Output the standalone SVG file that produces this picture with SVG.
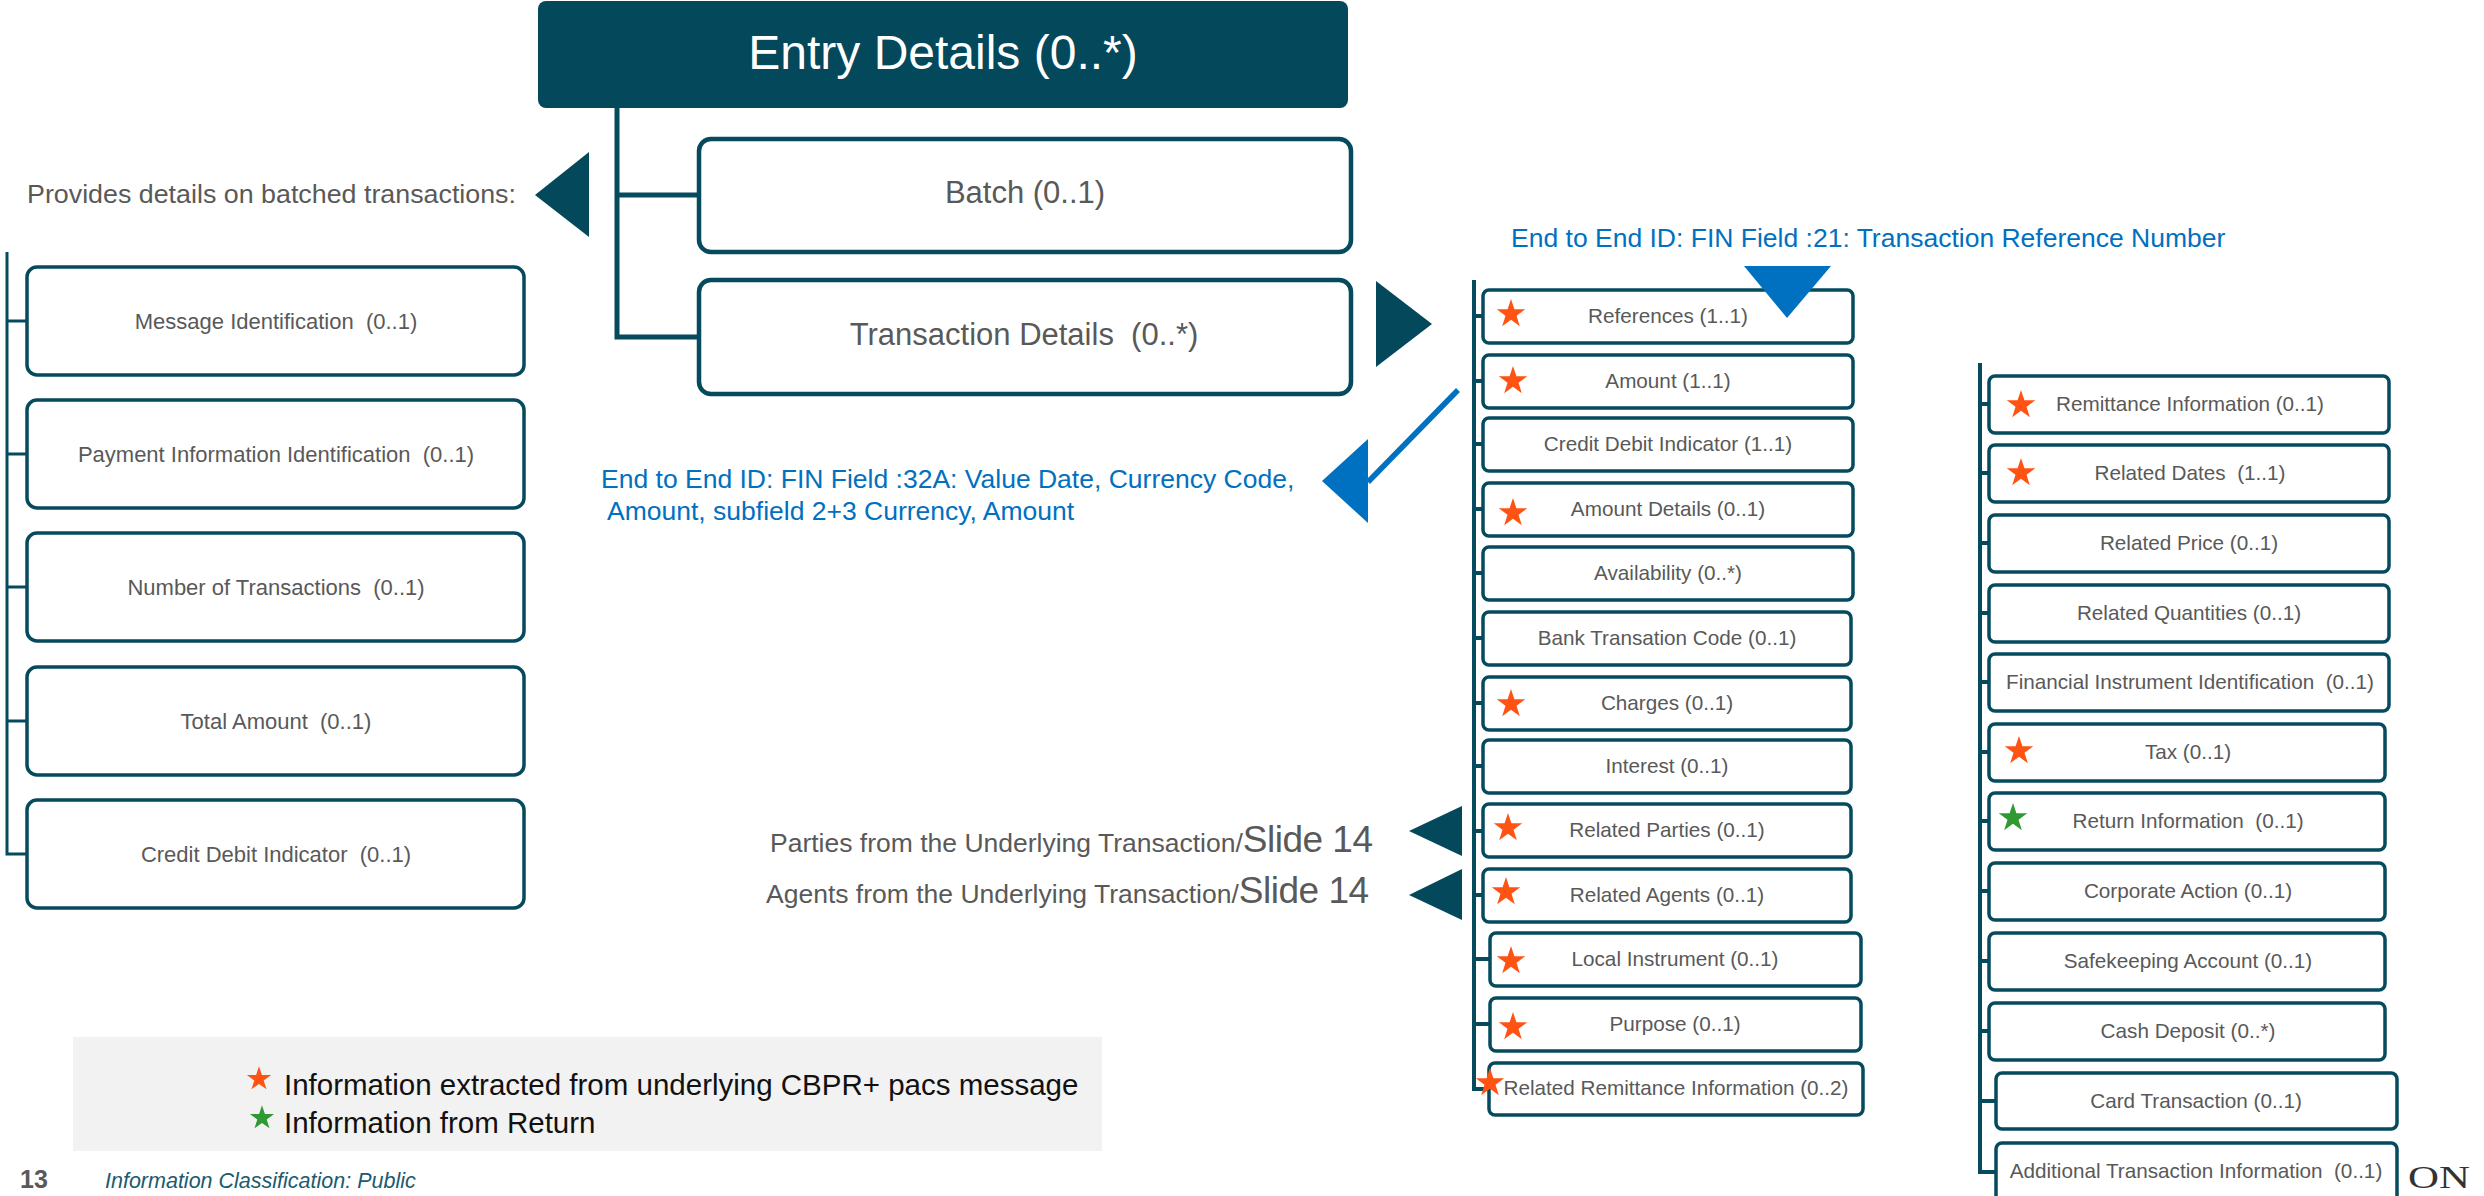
<svg xmlns="http://www.w3.org/2000/svg" xmlns:xlink="http://www.w3.org/1999/xlink" width="2484" height="1196" viewBox="0 0 2484 1196">
<style>
.box{fill:#ffffff;stroke:#064A5E;stroke-width:3.5}
.big{fill:#ffffff;stroke:#064A5E;stroke-width:4.5}
.t{font-family:"Liberation Sans",Arial,sans-serif;fill:#595959;text-anchor:middle}
.tl{font-size:22px}
.tm{font-size:20.7px}
.ann{font-family:"Liberation Sans",Arial,sans-serif;fill:#595959;font-size:26.5px}
.blue{font-family:"Liberation Sans",Arial,sans-serif;fill:#0070C0;font-size:26.5px}
.line{stroke:#064A5E;fill:none;stroke-linejoin:miter}
.tri{fill:#03485B}
.btri{fill:#0070C0}
.so{fill:#FF5314}
.sg{fill:#2F9A34}
</style>
<defs>
<path id="star" d="M0,-15 L3.41,-4.69 L14.27,-4.64 L5.52,1.79 L8.82,12.14 L0,5.8 L-8.82,12.14 L-5.52,1.79 L-14.27,-4.64 L-3.41,-4.69 Z"/>
</defs>
<rect width="2484" height="1196" fill="#ffffff"/>

<g id="connectors">
<path class="line" stroke-width="5" d="M617,108 V337 H699 M617,195 H699"/>
<path class="line" stroke-width="3" d="M7,252 V854 H27 M7,321 H27 M7,454 H27 M7,587 H27 M7,721 H27"/>
<path class="line" stroke-width="4" d="M1474,280 V1089 H1489 M1474,316 H1483 M1474,381 H1483 M1474,444 H1483 M1474,509 H1483 M1474,573 H1483 M1474,638 H1483 M1474,703 H1483 M1474,766 H1483 M1474,831 H1483 M1474,895 H1483 M1474,959 H1490 M1474,1024 H1490"/>
<path class="line" stroke-width="4" d="M1980,363 V1172 H1996 M1980,404 H1989 M1980,473 H1989 M1980,543 H1989 M1980,613 H1989 M1980,682 H1989 M1980,752 H1989 M1980,821 H1989 M1980,891 H1989 M1980,961 H1989 M1980,1031 H1989 M1980,1101 H1996"/>
<polygon class="tri" points="535,195 589,152 589,237"/>
<polygon class="tri" points="1376,281 1432,324 1376,367"/>
<polygon class="tri" points="1409,831 1462,806 1462,856"/>
<polygon class="tri" points="1409,895 1462,869 1462,920"/>
<line x1="1458" y1="390" x2="1368" y2="482" stroke="#0070C0" stroke-width="5.5"/>
<polygon class="btri" points="1322,481 1368,439 1368,523"/>
</g>

<g id="entry-details">
<rect x="538" y="1" width="810" height="107" rx="8" fill="#03485B"/>
<text x="943" y="69" font-family="'Liberation Sans',Arial,sans-serif" font-size="48" fill="#ffffff" text-anchor="middle">Entry Details (0..*)</text>
</g>
<g id="batch">
<rect class="big" x="699" y="139" width="652" height="113" rx="12"/>
<text class="t" x="1025" y="203" font-size="31">Batch (0..1)</text>
</g>
<g id="transaction-details">
<rect class="big" x="699" y="280" width="652" height="114" rx="12"/>
<text class="t" x="1024" y="345" font-size="31" xml:space="preserve">Transaction Details  (0..*)</text>
</g>

<g id="batch-note">
<text class="ann" x="27" y="203" textLength="489" lengthAdjust="spacingAndGlyphs">Provides details on batched transactions:</text>
</g>

<g id="message-identification"><rect class="box" x="27" y="267" width="497" height="108" rx="10"/><text class="t tl" x="276" y="329" xml:space="preserve">Message Identification  (0..1)</text></g>
<g id="payment-information-identification"><rect class="box" x="27" y="400" width="497" height="108" rx="10"/><text class="t tl" x="276" y="462" xml:space="preserve">Payment Information Identification  (0..1)</text></g>
<g id="number-of-transactions"><rect class="box" x="27" y="533" width="497" height="108" rx="10"/><text class="t tl" x="276" y="595" xml:space="preserve">Number of Transactions  (0..1)</text></g>
<g id="total-amount"><rect class="box" x="27" y="667" width="497" height="108" rx="10"/><text class="t tl" x="276" y="729" xml:space="preserve">Total Amount  (0..1)</text></g>
<g id="credit-debit-indicator-batch"><rect class="box" x="27" y="800" width="497" height="108" rx="10"/><text class="t tl" x="276" y="862" xml:space="preserve">Credit Debit Indicator  (0..1)</text></g>

<g id="annotation-32a">
<text class="blue" x="601" y="488">End to End ID: FIN Field :32A: Value Date, Currency Code,</text>
<text class="blue" x="607" y="520">Amount, subfield 2+3 Currency, Amount</text>
</g>
<g id="parties-note">
<text class="ann" x="770" y="852">Parties from the Underlying Transaction/<tspan font-size="37" letter-spacing="-0.5">Slide 14</tspan></text>
</g>
<g id="agents-note">
<text class="ann" x="766" y="903">Agents from the Underlying Transaction/<tspan font-size="37" letter-spacing="-0.5">Slide 14</tspan></text>
</g>

<g id="references"><rect class="box" x="1483" y="290" width="370" height="53" rx="6"/><text class="t tm" x="1668" y="323">References (1..1)</text><use href="#star" class="so" x="1511" y="314"/></g>
<g id="amount"><rect class="box" x="1483" y="355" width="370" height="53" rx="6"/><text class="t tm" x="1668" y="388">Amount (1..1)</text><use href="#star" class="so" x="1513" y="381"/></g>
<g id="credit-debit-indicator"><rect class="box" x="1483" y="418" width="370" height="53" rx="6"/><text class="t tm" x="1668" y="451">Credit Debit Indicator (1..1)</text></g>
<g id="amount-details"><rect class="box" x="1483" y="483" width="370" height="53" rx="6"/><text class="t tm" x="1668" y="516">Amount Details (0..1)</text><use href="#star" class="so" x="1513" y="513"/></g>
<g id="availability"><rect class="box" x="1483" y="547" width="370" height="53" rx="6"/><text class="t tm" x="1668" y="580">Availability (0..*)</text></g>
<g id="bank-transation-code"><rect class="box" x="1483" y="612" width="368" height="53" rx="6"/><text class="t tm" x="1667" y="645">Bank Transation Code (0..1)</text></g>
<g id="charges"><rect class="box" x="1483" y="677" width="368" height="53" rx="6"/><text class="t tm" x="1667" y="710">Charges (0..1)</text><use href="#star" class="so" x="1511" y="704"/></g>
<g id="interest"><rect class="box" x="1483" y="740" width="368" height="53" rx="6"/><text class="t tm" x="1667" y="773">Interest (0..1)</text></g>
<g id="related-parties"><rect class="box" x="1483" y="804" width="368" height="53" rx="6"/><text class="t tm" x="1667" y="837">Related Parties (0..1)</text><use href="#star" class="so" x="1508" y="828"/></g>
<g id="related-agents"><rect class="box" x="1483" y="869" width="368" height="53" rx="6"/><text class="t tm" x="1667" y="902">Related Agents (0..1)</text><use href="#star" class="so" x="1506" y="892"/></g>
<g id="local-instrument"><rect class="box" x="1490" y="933" width="371" height="53" rx="6"/><text class="t tm" x="1675" y="966">Local Instrument (0..1)</text><use href="#star" class="so" x="1511" y="961"/></g>
<g id="purpose"><rect class="box" x="1490" y="998" width="371" height="53" rx="6"/><text class="t tm" x="1675" y="1031">Purpose (0..1)</text><use href="#star" class="so" x="1513" y="1027"/></g>
<g id="related-remittance-information"><rect class="box" x="1489" y="1063" width="374" height="52" rx="6"/><text class="t tm" x="1676" y="1095">Related Remittance Information (0..2)</text><use href="#star" class="so" x="1490" y="1083"/></g>

<g id="annotation-21">
<text class="blue" x="1511" y="247">End to End ID: FIN Field :21: Transaction Reference Number</text>
<polygon class="btri" points="1744,266 1831,266 1787,318"/>
</g>

<g id="remittance-information"><rect class="box" x="1989" y="376" width="400" height="57" rx="6"/><text class="t tm" x="2190" y="411">Remittance Information (0..1)</text><use href="#star" class="so" x="2021" y="405"/></g>
<g id="related-dates"><rect class="box" x="1989" y="445" width="400" height="57" rx="6"/><text class="t tm" x="2190" y="480" xml:space="preserve">Related Dates  (1..1)</text><use href="#star" class="so" x="2021" y="473"/></g>
<g id="related-price"><rect class="box" x="1989" y="515" width="400" height="57" rx="6"/><text class="t tm" x="2189" y="550">Related Price (0..1)</text></g>
<g id="related-quantities"><rect class="box" x="1989" y="585" width="400" height="57" rx="6"/><text class="t tm" x="2189" y="620">Related Quantities (0..1)</text></g>
<g id="financial-instrument-identification"><rect class="box" x="1989" y="654" width="400" height="57" rx="6"/><text class="t tm" x="2190" y="689" xml:space="preserve">Financial Instrument Identification  (0..1)</text></g>
<g id="tax"><rect class="box" x="1989" y="724" width="396" height="57" rx="6"/><text class="t tm" x="2188" y="759">Tax (0..1)</text><use href="#star" class="so" x="2019" y="751"/></g>
<g id="return-information"><rect class="box" x="1989" y="793" width="396" height="57" rx="6"/><text class="t tm" x="2188" y="828" xml:space="preserve">Return Information  (0..1)</text><use href="#star" class="sg" x="2013" y="818"/></g>
<g id="corporate-action"><rect class="box" x="1989" y="863" width="396" height="57" rx="6"/><text class="t tm" x="2188" y="898">Corporate Action (0..1)</text></g>
<g id="safekeeping-account"><rect class="box" x="1989" y="933" width="396" height="57" rx="6"/><text class="t tm" x="2188" y="968">Safekeeping Account (0..1)</text></g>
<g id="cash-deposit"><rect class="box" x="1989" y="1003" width="396" height="57" rx="6"/><text class="t tm" x="2188" y="1038">Cash Deposit (0..*)</text></g>
<g id="card-transaction"><rect class="box" x="1996" y="1073" width="401" height="56" rx="6"/><text class="t tm" x="2196" y="1108">Card Transaction (0..1)</text></g>
<g id="additional-transaction-information"><rect class="box" x="1996" y="1143" width="401" height="60" rx="6"/><text class="t tm" x="2196" y="1178" xml:space="preserve">Additional Transaction Information  (0..1)</text></g>

<g id="legend">
<rect x="73" y="1037" width="1029" height="114" fill="#F2F2F2"/>
<use href="#star" class="so" x="259" y="1079" transform="translate(259 1079) scale(0.85) translate(-259 -1079)"/>
<text x="284" y="1095" font-family="'Liberation Sans',Arial,sans-serif" font-size="29.5" fill="#111111">Information extracted from underlying CBPR+ pacs message</text>
<use href="#star" class="sg" x="262" y="1118" transform="translate(262 1118) scale(0.85) translate(-262 -1118)"/>
<text x="284" y="1133" font-family="'Liberation Sans',Arial,sans-serif" font-size="29.5" fill="#111111">Information from Return</text>
</g>

<g id="footer">
<text x="20" y="1188" font-family="'Liberation Sans',Arial,sans-serif" font-size="25" font-weight="bold" fill="#595959">13</text>
<text x="105" y="1188" font-family="'Liberation Sans',Arial,sans-serif" font-size="21.5" font-style="italic" fill="#1B5A70">Information Classification: Public</text>
<text x="2408" y="1188" font-family="'Liberation Serif','Times New Roman',serif" font-size="31" fill="#333333" textLength="62" lengthAdjust="spacingAndGlyphs">ON</text>
</g>
</svg>
